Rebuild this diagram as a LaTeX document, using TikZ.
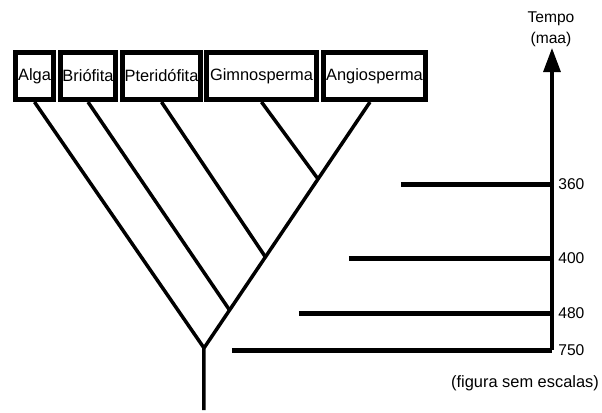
\documentclass[tikz,border=0pt]{standalone}
\usepackage{fontspec}
\setmainfont{Liberation Sans}
\usetikzlibrary{arrows.meta,calc}
\begin{document}
\begin{tikzpicture}[x=0.5pt, y=-0.5pt, font=\fontsize{8.2}{9.8}\selectfont, line join=round, >={Triangle[length=12pt,width=8.5pt]}]
\tikzset{taxon/.style={draw, line width=2.4pt, line join=miter, minimum height=23.6pt, inner sep=0.5pt},
  branch/.style={line width=1.75pt},
  era/.style={line width=2.5pt},
  lab/.style={font=\fontsize{7.8}{10.5}\selectfont, inner sep=0pt}}
\useasboundingbox (0,0) rectangle (602,413);
% grupos
\node[taxon, minimum width=19.1pt] (alga) at (34.5,76) {Alga};
\node[taxon, minimum width=27.6pt] (brio) at (88,76) {Briófita};
\node[taxon, minimum width=39.1pt] (pter) at (161.5,76) {Pteridófita};
\node[taxon, minimum width=55.1pt] (gimno) at (261.5,76) {Gimnosperma};
\node[taxon, minimum width=51.1pt] (angio) at (374.5,76) {Angiosperma};
% arvore
\coordinate (root) at (204,348);
\coordinate (base) at (204,410);
\coordinate (top) at ([xshift=-2.25pt]angio.south);
\coordinate (j2) at ($(top)!0.846!(root)$);
\coordinate (j3) at ($(top)!0.630!(root)$);
\coordinate (j4) at ($(top)!0.313!(root)$);
\draw[branch] (top) -- (root) -- (base);
\draw[branch] (alga.south) -- (root);
\draw[branch] (brio.south) -- (j2);
\draw[branch] (pter.south) -- (j3);
\draw[branch] (gimno.south) -- (j4);
% eixo do tempo
\coordinate (t360) at (552,184);
\coordinate (t400) at (552,258);
\coordinate (t480) at (552,313);
\coordinate (t750) at (552,350);
\coordinate (tip) at (552,48);
\draw[line width=1.6pt, ->] (t750) -- (tip);
\node[lab, align=center] (tempo) at (551,29) {Tempo\\(maa)};
\draw[era] (401,184) -- (t360);
\draw[era] (349,258) -- (t400);
\draw[era] (299,313) -- (t480);
\draw[era] (232,350) -- (t750);
\node[lab, anchor=west] (l360) at ([xshift=3pt]t360) {360};
\node[lab, anchor=west] (l400) at ([xshift=3pt]t400) {400};
\node[lab, anchor=west] (l480) at ([xshift=3pt]t480) {480};
\node[lab, anchor=west] (l750) at ([xshift=3pt]t750) {750};
\node (nota) at (525,383) {(figura sem escalas)};
\end{tikzpicture}
\end{document}
